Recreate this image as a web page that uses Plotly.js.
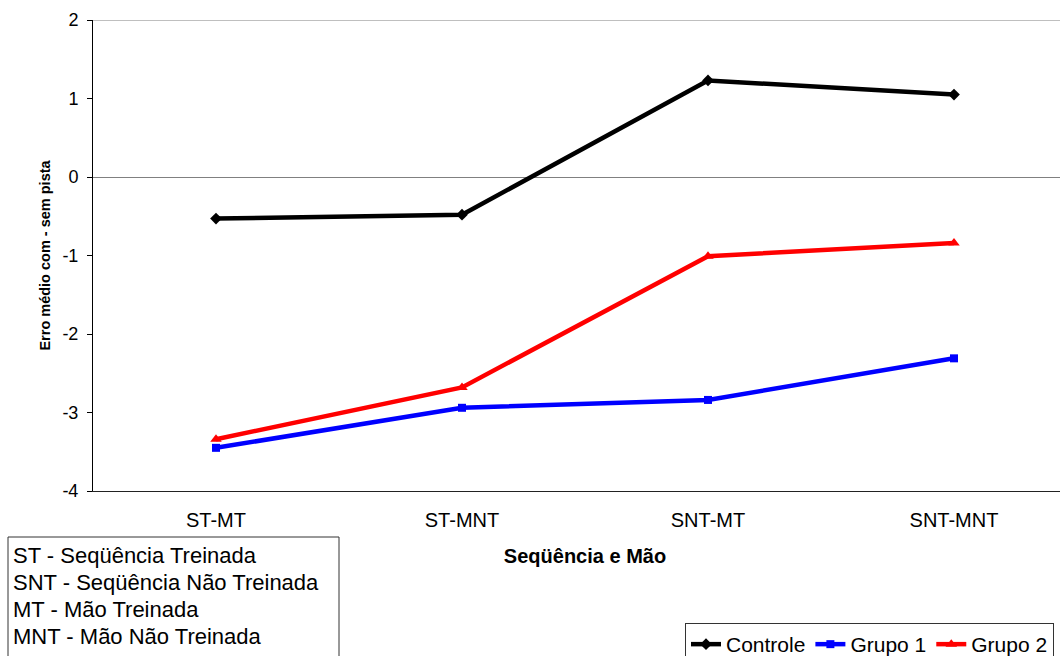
<!DOCTYPE html>
<html>
<head>
<meta charset="utf-8">
<script src="https://cdn.plot.ly/plotly-3.0.1.min.js"></script>
<style>
html, body { margin: 0; padding: 0; overflow: hidden; background: #fff; }
#chart { width: 1080px; height: 656px; }
</style>
</head>
<body>
<div id="chart"></div>
<script>
var categories = ["ST-MT", "ST-MNT", "SNT-MT", "SNT-MNT"];
var controle = [-0.53, -0.48, 1.23, 1.05];
var grupo1 = [-3.45, -2.94, -2.84, -2.31];
var grupo2 = [-3.34, -2.68, -1.01, -0.84];
var seriesNames = ["Controle", "Grupo 1", "Grupo 2"];
var yTicks = [-4, -3, -2, -1, 0, 1, 2];
var definitions = [
  "ST - Seqüência Treinada",
  "SNT - Seqüência Não Treinada",
  "MT - Mão Treinada",
  "MNT - Mão Não Treinada"
];
var xTitle = "Seqüência e Mão";
var yTitle = "Erro médio com - sem pista";

var FONT = "Liberation Sans, Arial, sans-serif";

// plot geometry (pixels) used to convert box/text placement into paper units
var M = {l: 93, r: 3, t: 20, b: 165};
var W = 1080, H = 656;
var PW = W - M.l - M.r, PH = H - M.t - M.b;
var PLOT_BOTTOM = H - M.b;
function px2x(px) { return (px - M.l) / PW; }
function px2y(py) { return (PLOT_BOTTOM - py) / PH; }

function trace(name, vals, color, symbol, size) {
  return {
    type: "scatter", mode: "lines+markers", name: name,
    x: categories, y: vals,
    line: {color: color, width: 4.5},
    marker: {color: color, symbol: symbol, size: size},
    cliponaxis: false
  };
}

var data = [
  trace(seriesNames[0], controle, "#000000", "diamond", 9),
  trace(seriesNames[1], grupo1, "#0000FF", "square", 8),
  trace(seriesNames[2], grupo2, "#FF0000", "triangle-up", 10)
];

var annotations = definitions.map(function (t, i) {
  return {
    xref: "paper", yref: "paper", x: px2x(11), y: px2y(555 + 27 * i),
    xanchor: "left", yanchor: "middle", align: "left",
    text: t, showarrow: false,
    font: {family: FONT, size: 22, color: "#000"}
  };
});

var layout = {
  width: W, height: H,
  margin: {l: M.l, r: M.r, t: M.t, b: M.b, autoexpand: false},
  paper_bgcolor: "#ffffff", plot_bgcolor: "#ffffff",
  font: {family: FONT, color: "#000"},
  showlegend: true,
  legend: {
    orientation: "h", x: px2x(685), xanchor: "left", y: px2y(623), yanchor: "top",
    bordercolor: "#333", borderwidth: 1,
    font: {family: FONT, size: 21, color: "#000"},
    traceorder: "normal", itemwidth: 30
  },
  xaxis: {
    type: "category", range: [-0.5, 3.5],
    showgrid: false, zeroline: false,
    showline: true, linecolor: "#222", linewidth: 1,
    ticks: "", tickfont: {family: FONT, size: 20, color: "#000"},
    ticklabelstandoff: 11,
    title: {text: "<b>" + xTitle + "</b>", font: {family: FONT, size: 20, color: "#000"}, standoff: 18},
    automargin: false,
    fixedrange: true
  },
  yaxis: {
    range: [-4, 2], tickvals: yTicks, ticktext: yTicks.map(String),
    showgrid: false, zeroline: true, zerolinecolor: "#808080", zerolinewidth: 1,
    showline: true, linecolor: "#000", linewidth: 1,
    ticks: "outside", ticklen: 5, tickcolor: "#000", tickwidth: 1,
    tickfont: {family: FONT, size: 18, color: "#000"},
    ticklabelstandoff: 5,
    title: {text: "<b>" + yTitle + "</b>", font: {family: FONT, size: 14.5, color: "#000"}, standoff: 8},
    automargin: false,
    fixedrange: true
  },
  shapes: [
    {type: "line", xref: "paper", x0: 0, x1: 1, yref: "y", y0: 2, y1: 2,
     line: {color: "#808080", width: 1}},
    {type: "rect", xref: "paper", yref: "paper",
     x0: px2x(8), x1: px2x(339), y0: px2y(537), y1: px2y(690),
     line: {color: "#333", width: 1}, fillcolor: "rgba(0,0,0,0)"}
  ],
  annotations: annotations
};

Plotly.newPlot("chart", data, layout, {displayModeBar: false, staticPlot: true});
</script>
</body>
</html>
